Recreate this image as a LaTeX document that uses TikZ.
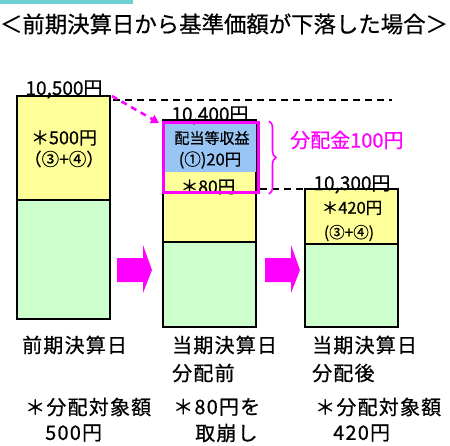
\documentclass[tikz,border=0pt]{standalone}
\usepackage{fontspec}
\setmainfont{Noto Sans CJK JP}[FakeBold=0.6]
\newfontfamily\labelfont{Noto Sans CJK JP}[LetterSpace=6,FakeBold=0.6]
\usetikzlibrary{arrows.meta,calc,positioning,decorations.pathreplacing}
\definecolor{barfill}{RGB}{255,255,153}
\definecolor{basefill}{RGB}{204,255,204}
\definecolor{incfill}{RGB}{153,197,245}
\definecolor{pinkline}{RGB}{255,0,255}
\definecolor{topbar}{RGB}{110,208,208}

\begin{document}
\begin{tikzpicture}[x=1pt,y=-1pt,
  box/.style={draw=black,line width=1.6pt,anchor=north west,inner sep=0pt,outer sep=0pt,minimum width=93pt},
  txt/.style={inner sep=0pt,font=\fontsize{#1}{#1}\selectfont},
  lbl/.style={inner sep=0pt,anchor=west,font=\fontsize{20}{20}\selectfont\labelfont}]
\useasboundingbox (0,0) rectangle (450,445);
\fill[topbar] (0,0) rectangle (133,4);
\node[txt=22.4] (title) at (224,24) {＜前期決算日から基準価額が下落した場合＞};

\node[box,fill=basefill,minimum height=119pt] (g1) at (17,200) {};
\node[box,fill=barfill,minimum height=104pt] (y1) at (17,96) {};
\node[txt=19,anchor=base] (v1) at (64,95) {10,500円};
\node[txt=18] (a1) at (64,138) {＊500円};
\node[txt=17.5] (p1) at (64,159) {（③+④）};

\node[box,fill=basefill,minimum height=85pt] (g2) at (163,242) {};
\node[box,fill=barfill,minimum height=122pt] (y2) at (163,120) {};
\fill[incfill] (163,122) rectangle (256,172);
\node[txt=19,anchor=base] (v2) at (210,121) {10,400円};
\node[txt=15] (i2) at (212,138) {配当等収益};
\node[txt=16.5] (j2) at (210,160) {(①)20円};
\node[txt=17.5] (k2) at (208,187) {＊80円};
\node[draw=pinkline,line width=3pt,anchor=north west,minimum width=95pt,minimum height=70pt,inner sep=0pt] (m2) at (162,121) {};

\node[box,fill=basefill,minimum height=83pt] (g3) at (305,244) {};
\node[box,fill=barfill,minimum height=55pt] (y3) at (305,189) {};
\node[txt=19,anchor=base] (v3) at (352,190) {10,300円};
\node[txt=16.5] (a3) at (352,208) {＊420円};
\node[txt=15.5] (p3) at (349,233) {(③+④)};

\coordinate (d1) at (392,100);
\draw[line width=2pt,dash pattern=on 7pt off 5pt] ($(y1.north east)+(3,4)$) -- (d1);
\draw[line width=2pt,dash pattern=on 7pt off 5pt] (y3.north west -| m2.east) -- (y3.north west);
\draw[pinkline,line width=2.5pt,dash pattern=on 6pt off 5pt,-{Triangle[length=8pt,width=9pt]}] ($(y1.north east)+(2,0)$) -- ($(m2.north west)+(-3,2)$);

\draw[pinkline,line width=1.6pt,decorate,decoration={brace,amplitude=7pt}] ($(m2.north east)+(9,0)$) -- ($(m2.south east)+(9,0)$) coordinate[midway] (b2);
\node[txt=20,anchor=west,text=pinkline] (dv) at (290,140) {分配金100円};

\foreach \x in {117,265}
  \fill[pinkline] (\x,258) -- ++(26,0) -- ++(0,-13) -- ++(9,25) -- ++(-9,23) -- ++(0,-11) -- ++(-26,0) -- cycle;

\node[lbl] (n1) at (22,345) {前期決算日};
\node[lbl] (n2) at (172,345) {当期決算日};
\node[lbl] (n2b) at (172,373) {分配前};
\node[lbl] (n3) at (312,345) {当期決算日};
\node[lbl] (n3b) at (312,373) {分配後};
\node[lbl] (s1) at (25,407) {＊分配対象額};
\node[lbl] (s1b) at (45,433) {500円};
\node[lbl] (s2) at (173,407) {＊80円を};
\node[lbl] (s2b) at (195,433) {取崩し};
\node[lbl] (s3) at (315,407) {＊分配対象額};
\node[lbl] (s3b) at (333,433) {420円};
\end{tikzpicture}
\end{document}
